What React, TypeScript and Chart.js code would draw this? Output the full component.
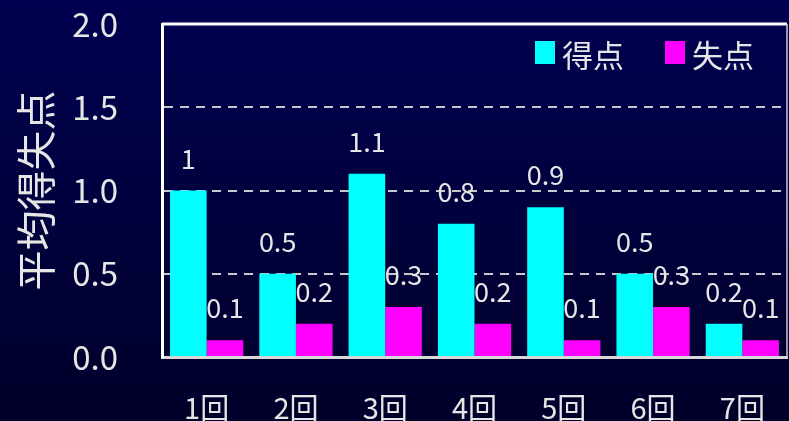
import React, { useEffect, useRef } from "react";
import { Chart, registerables } from "chart.js";

Chart.register(...registerables);

const categories = ["1回", "2回", "3回", "4回", "5回", "6回", "7回"];
const scored = [1.0, 0.5, 1.1, 0.8, 0.9, 0.5, 0.2];
const conceded = [0.1, 0.2, 0.3, 0.2, 0.1, 0.3, 0.1];
const scoredLabels = ["1", "0.5", "1.1", "0.8", "0.9", "0.5", "0.2"];
const concededLabels = ["0.1", "0.2", "0.3", "0.2", "0.1", "0.3", "0.1"];
const seriesNames = ["得点", "失点"];
const yTicks = [0, 0.5, 1.0, 1.5, 2.0];

const FONT = "'Noto Sans CJK JP', 'Noto Sans', sans-serif";
const TEXT = "#e6e6e6";

const bgPlugin = {
  id: "bg",
  beforeDraw(chart: any) {
    const { ctx, width, height } = chart;
    const g = ctx.createLinearGradient(0, 0, 0, height);
    g.addColorStop(0, "#000050");
    g.addColorStop(1, "#00002a");
    ctx.save();
    ctx.fillStyle = g;
    ctx.fillRect(0, 0, width, height);
    ctx.restore();
  },
};

const framePlugin = {
  id: "frame",
  afterDatasetsDraw(chart: any) {
    const { ctx, chartArea } = chart;
    ctx.save();
    ctx.strokeStyle = "#ffffff";
    ctx.lineWidth = 3;
    ctx.beginPath();
    ctx.moveTo(chartArea.left, chartArea.top);
    ctx.lineTo(chartArea.right, chartArea.top);
    ctx.stroke();
    ctx.lineWidth = 1.5;
    ctx.strokeStyle = "#c8c8d8";
    ctx.beginPath();
    ctx.moveTo(chartArea.right, chartArea.top);
    ctx.lineTo(chartArea.right, chartArea.bottom);
    ctx.stroke();
    ctx.restore();
  },
};

const labelPlugin = {
  id: "valueLabels",
  afterDatasetsDraw(chart: any) {
    const { ctx } = chart;
    const lists = [scoredLabels, concededLabels];
    ctx.save();
    ctx.font = `27px ${FONT}`;
    ctx.fillStyle = TEXT;
    ctx.textAlign = "center";
    ctx.textBaseline = "alphabetic";
    chart.data.datasets.forEach((ds: any, di: number) => {
      const meta = chart.getDatasetMeta(di);
      meta.data.forEach((bar: any, i: number) => {
        ctx.fillText(lists[di][i], bar.x, bar.y - 22);
      });
    });
    ctx.restore();
  },
};

const legendPlugin = {
  id: "innerLegend",
  afterDraw(chart: any) {
    const { ctx } = chart;
    const items = [
      { x: 535, color: "#00ffff", text: seriesNames[0] },
      { x: 665, color: "#ff00ff", text: seriesNames[1] },
    ];
    ctx.save();
    ctx.font = `31px ${FONT}`;
    ctx.textBaseline = "middle";
    ctx.textAlign = "left";
    items.forEach((it) => {
      ctx.fillStyle = it.color;
      ctx.fillRect(it.x, 41, 20, 23);
      ctx.fillStyle = TEXT;
      ctx.fillText(it.text, it.x + 27, 55);
    });
    ctx.restore();
  },
};

export default function App() {
  const ref = useRef<HTMLCanvasElement>(null);

  useEffect(() => {
    if (!ref.current) return;
    const chart = new Chart(ref.current, {
      type: "bar",
      data: {
        labels: categories,
        datasets: [
          {
            label: seriesNames[0],
            data: scored,
            backgroundColor: "#00ffff",
            borderWidth: 0,
            categoryPercentage: 0.82,
            barPercentage: 1.0,
          },
          {
            label: seriesNames[1],
            data: conceded,
            backgroundColor: "#ff00ff",
            borderWidth: 0,
            categoryPercentage: 0.82,
            barPercentage: 1.0,
          },
        ],
      },
      options: {
        responsive: false,
        animation: false,
        maintainAspectRatio: false,
        layout: { padding: { top: 24, right: 2, left: 0, bottom: 0 } },
        plugins: {
          legend: { display: false },
          tooltip: { enabled: false },
        },
        scales: {
          x: {
            grid: { display: false, drawTicks: false },
            border: { display: true, color: "#d8d8d8", width: 3 },
            ticks: {
              color: TEXT,
              font: { family: FONT, size: 29 },
              padding: 34,
              maxRotation: 0,
            },
            afterFit(scale: any) {
              scale.height = 64;
              scale.paddingLeft = 0;
              scale.paddingRight = 0;
            },
          },
          y: {
            min: 0,
            max: 2.0,
            afterBuildTicks(scale: any) {
              scale.ticks = yTicks.map((v) => ({ value: v }));
            },
            grid: {
              drawTicks: false,
              lineWidth: 2,
              color: (c: any) =>
                c.tick && (c.tick.value === 0 || c.tick.value === 2) ? "rgba(0,0,0,0)" : "#c8c8c8",
            },
            border: { display: true, color: "#ffffff", width: 3, dash: [9, 7] },
            ticks: {
              color: TEXT,
              font: { family: FONT, size: 33 },
              padding: 44,
              callback: (v: any) => Number(v).toFixed(1),
            },
            title: {
              display: true,
              text: "平均得失点",
              color: TEXT,
              font: { family: FONT, size: 40 },
              padding: { top: 12, bottom: 0 },
            },
            afterFit(scale: any) {
              scale.width = 162;
              scale.paddingTop = 0;
              scale.paddingBottom = 0;
            },
          },
        },
      },
      plugins: [bgPlugin, framePlugin, labelPlugin, legendPlugin],
    });
    return () => chart.destroy();
  }, []);

  return (
    <div style={{ position: "fixed", left: 0, top: 0, width: 789, height: 421 }}>
      <canvas ref={ref} width={789} height={421} style={{ display: "block" }} />
    </div>
  );
}
